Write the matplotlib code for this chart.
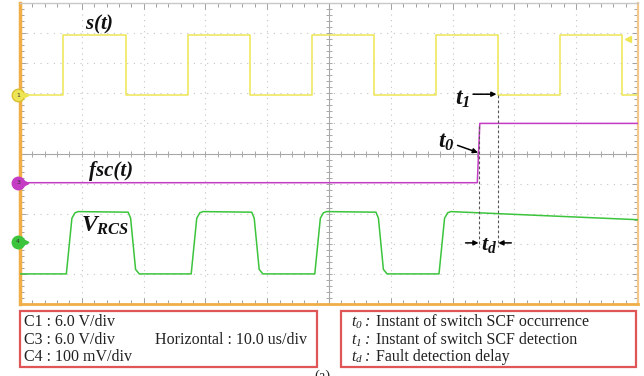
import numpy as np
import matplotlib
matplotlib.use("Agg")
import matplotlib.pyplot as plt
from matplotlib.patches import Rectangle

plt.rcParams['mathtext.fontset'] = 'custom'
plt.rcParams['mathtext.it'] = 'Liberation Serif:italic:bold'
plt.rcParams['mathtext.rm'] = 'Liberation Serif:italic:bold'
plt.rcParams['mathtext.bf'] = 'Liberation Serif:bold'

# ---- data (time in us, level in divisions) ----
s_time = [-50, -43.0, -43.0, -32.8, -32.8, -22.8, -22.8, -12.8, -12.8, -2.8, -2.8,
          7.3, 7.3, 17.3, 17.3, 27.3, 27.3, 37.4, 37.4, 47.4, 47.4, 50]
s_level = [1.93, 1.93, 3.93, 3.93, 1.93, 1.93, 3.93, 3.93, 1.93, 1.93, 3.93,
           3.93, 1.93, 1.93, 3.93, 3.93, 1.93, 1.93, 3.93, 3.93, 1.93, 1.93]

fsc_time = [-50, 24.0, 24.4, 50]
fsc_level = [-0.97, -0.97, 1.0, 1.0]

v_time = [-50, -42.5, -41.6, -41.1, -40.6, -32.5, -32.1, -31.3, -30.7,
          -22.3, -21.4, -20.9, -20.4, -12.5, -12.1, -11.3, -10.7,
          -2.3, -1.4, -0.9, -0.4, 7.6, 8.0, 8.8, 9.4,
          17.8, 18.7, 19.2, 19.7, 50]
v_level = [-4.0, -4.0, -2.15, -1.97, -1.93, -1.95, -2.15, -3.85, -4.0,
           -4.0, -2.15, -1.97, -1.93, -1.95, -2.15, -3.85, -4.0,
           -4.0, -2.15, -1.97, -1.93, -1.95, -2.15, -3.85, -4.0,
           -4.0, -2.15, -1.97, -1.93, -2.2]

t0_time = 24.3
t1_time = 27.3

scale_lines = ["C1 : 6.0 V/div", "C3 : 6.0 V/div", "C4 : 100 mV/div"]
horiz_text = "Horizontal : 10.0 us/div"
legend_syms = ["0", "1", "d"]
legend_desc = ["Instant of switch SCF occurrence",
               "Instant of switch SCF detection",
               "Fault detection delay"]

YEL = '#EEE555'
MAG = '#C43CC4'
GRN = '#3CC43C'
GRID = '#C4C4C4'
ORANGE = '#F0AE48'

W, H = 644, 376
fig = plt.figure(figsize=(W / 100, H / 100), dpi=100)
fig.patch.set_facecolor('white')
ax = fig.add_axes([20 / W, (H - 304) / H, 618 / W, 301 / H])
ax.set_xlim(-50, 50)
ax.set_ylim(-5, 5)

# grid
for gx in np.arange(-40, 50, 10):
    if gx != 0:
        ax.axvline(gx, color=GRID, lw=0.8, ls=(0, (1, 4)), zorder=1)
for gy in np.arange(-4, 5, 1):
    if gy != 0:
        ax.axhline(gy, color=GRID, lw=0.8, ls=(0, (1, 5)), zorder=1)
ax.axhline(0, color='#A8A8A8', lw=0.8, zorder=1)
ax.axvline(0, color='#A8A8A8', lw=0.8, zorder=1)
ax.plot(np.arange(-48, 50, 2), np.zeros(49), ls='none', marker='|',
        ms=4, mew=0.7, color='#A8A8A8', zorder=1)
ax.plot(np.zeros(49), np.arange(-4.8, 5, 0.2), ls='none', marker='_',
        ms=4, mew=0.7, color='#A8A8A8', zorder=1)

ax.set_xticks(np.arange(-50, 51, 10))
ax.set_xticks(np.arange(-50, 51, 2), minor=True)
ax.set_yticks(np.arange(-5, 6, 1))
ax.set_yticks(np.arange(-5, 5.01, 0.2), minor=True)
ax.tick_params(which='both', direction='in', top=True, right=True,
               labelbottom=False, labelleft=False, color='#A0A0A0', width=0.7)
ax.tick_params(which='major', length=4)
ax.tick_params(which='minor', length=3)
ax.spines['left'].set_color(ORANGE)
ax.spines['left'].set_linewidth(2.5)
ax.spines['bottom'].set_color(ORANGE)
ax.spines['bottom'].set_linewidth(2)
ax.spines['right'].set_color('#F3C88A')
ax.spines['right'].set_linewidth(1.6)
ax.spines['top'].set_color('#C8C8C8')
ax.spines['top'].set_linewidth(1)

# traces
ax.plot(s_time, s_level, color=YEL, lw=1.1, zorder=3)
ax.plot(fsc_time, fsc_level, color=MAG, lw=1.1, zorder=3)
ax.plot(v_time, v_level, color=GRN, lw=1.1, zorder=3)

# channel markers
for lvl, col, lab in [(s_level[0], YEL, '1'), (fsc_level[0], MAG, '3'), (v_level[0] + 1.07, GRN, '4')]:
    ax.plot([-50.3], [lvl], marker='o', ms=9, color=col, mec='#D8C030' if col == YEL else col,
            clip_on=False, zorder=6)
    ax.plot([-49.0], [lvl], marker='>', ms=3.5, color=col, clip_on=False, zorder=6)
    ax.text(-50.3, lvl, lab, fontsize=4.5, ha='center', va='center', color='#333333',
            zorder=7, clip_on=False)
ax.plot([48.4], [3.8], marker='<', ms=4, color=YEL, zorder=6, clip_on=False)

# dashed marker lines
ax.plot([t0_time, t0_time], [0.93, -3.1], color='#555555', lw=0.8, ls=(0, (2.5, 2)), zorder=4)
ax.plot([t1_time, t1_time], [1.93, -3.1], color='#555555', lw=0.8, ls=(0, (2.5, 2)), zorder=4)

# labels
ax.text(-37.1, 4.3, r"$s(t)$", fontsize=15, ha='center', va='center', color='#111111')
ax.text(-35.3, -0.57, "fsc(t)", fontsize=15, family='Liberation Serif', style='italic',
        weight='bold', ha='center', va='center', color='#111111')
ax.text(-40.2, -2.37, r"$V_{RCS}$", fontsize=17, ha='left', va='center', color='#111111')
ax.text(18.9, 0.4, r"$t_0$", fontsize=17, ha='center', va='center', color='#111111')
ax.text(21.6, 1.85, r"$t_1$", fontsize=17, ha='center', va='center', color='#111111')
ax.text(25.9, -3.05, r"$t_d$", fontsize=16, ha='center', va='center', color='#111111')

akw = dict(arrowstyle='-|>', color='black', lw=1.1, mutation_scale=7, shrinkA=0, shrinkB=0)
ax.annotate('', xy=(24.1, 0.03), xytext=(20.8, 0.27), arrowprops=akw)
ax.annotate('', xy=(27.1, 1.97), xytext=(23.3, 1.97), arrowprops=akw)
ax.annotate('', xy=(24.2, -2.97), xytext=(22.1, -2.97), arrowprops=akw)
ax.annotate('', xy=(27.4, -2.97), xytext=(29.5, -2.97), arrowprops=akw)

# bottom boxes
RED = '#E05555'
fig.patches.append(Rectangle((20 / W, 1 - 367 / H), 297 / W, 56 / H, transform=fig.transFigure,
                             fill=False, edgecolor=RED, lw=1.6))
fig.patches.append(Rectangle((341 / W, 1 - 367 / H), 295 / W, 56 / H, transform=fig.transFigure,
                             fill=False, edgecolor=RED, lw=1.6))

fkw = dict(family='Liberation Serif', fontsize=11.5, color='#222222', va='center')
rows = [322, 340, 357]
for txt, py in zip(scale_lines, rows):
    fig.text(24 / W, 1 - py / H, txt, **fkw)
fig.text(155 / W, 1 - 340 / H, horiz_text, **fkw)
for sym, desc, py in zip(legend_syms, legend_desc, rows):
    fig.text(351 / W, 1 - py / H, 't', style='italic', **fkw)
    skw = dict(fkw)
    skw['fontsize'] = 8
    fig.text(356 / W, 1 - (py + 3) / H, sym, style='italic', **skw)
    fig.text(365 / W, 1 - py / H, ':', style='italic', **fkw)
    fig.text(376 / W, 1 - py / H, desc, **fkw)

fig.text(322 / W, 1 - 370 / H, "(a)", family='Liberation Serif', fontsize=10.5,
         color='#222222', ha='center', va='top')

fig.savefig('out.png', dpi=100, facecolor='white')
